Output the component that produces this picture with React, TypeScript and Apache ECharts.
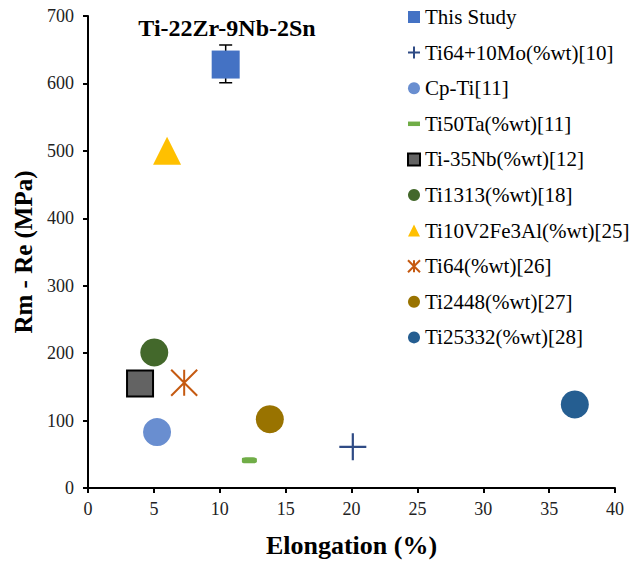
import React, { useEffect, useRef } from "react";
import * as echarts from "echarts";

const xTicks = [0, 5, 10, 15, 20, 25, 30, 35, 40];
const yTicks = [0, 100, 200, 300, 400, 500, 600, 700];

const seriesNames = [
  "This Study",
  "Ti64+10Mo(%wt)[10]",
  "Cp-Ti[11]",
  "Ti50Ta(%wt)[11]",
  "Ti-35Nb(%wt)[12]",
  "Ti1313(%wt)[18]",
  "Ti10V2Fe3Al(%wt)[25]",
  "Ti64(%wt)[26]",
  "Ti2448(%wt)[27]",
  "Ti25332(%wt)[28]",
];

const thisStudy = [[10.45, 628]];
const thisStudyError = [[10.45, 601, 657]];
const ti64Mo = [[20.1, 61]];
const cpTi = [[5.24, 83]];
const ti50Ta = [[12.25, 41]];
const ti35Nb = [[3.95, 155]];
const ti1313 = [[5.03, 201]];
const ti10V2 = [[6.0, 500]];
const ti64 = [[7.3, 156]];
const ti2448 = [[13.8, 102]];
const ti25332 = [[36.95, 124]];

const FONT = "Liberation Serif";
const PLUS = "path://M0,12L24,12M12,0L12,24";
const ASTER = "path://M0,0L26,26M26,0L0,26M13,0L13,26";
const DASH = "path://M0,0H8V3H0Z";

export default function App() {
  const ref = useRef<HTMLDivElement>(null);
  useEffect(() => {
    if (!ref.current) return;
    const chart = echarts.init(ref.current, null, { renderer: "svg" });
    const sc = (i: number, data: number[][], symbol: any, size: any, itemStyle: any) => ({
      type: "scatter",
      name: seriesNames[i],
      z: 3,
      data,
      symbol,
      symbolSize: size,
      itemStyle: { opacity: 1, ...itemStyle },
      emphasis: { disabled: true },
    });
    const option: any = {
      animation: false,
      backgroundColor: "#fff",
      textStyle: { fontFamily: FONT },
      grid: { left: 88, right: 18, top: 16, bottom: 76, containLabel: false },
      graphic: [
        {
          type: "text",
          x: 227,
          y: 28,
          style: {
            text: "Ti-22Zr-9Nb-2Sn",
            fontFamily: FONT,
            fontSize: 24,
            fontWeight: "bold",
            fill: "#000",
            align: "center",
            verticalAlign: "middle",
          },
        },
      ],
      legend: {
        orient: "vertical",
        left: 407,
        top: 6,
        padding: 0,
        itemWidth: 12,
        itemHeight: 12,
        itemGap: 13.6,
        textStyle: { fontFamily: FONT, fontSize: 21, lineHeight: 22, color: "#000" },
        data: [
          { name: seriesNames[0], icon: "rect" },
          { name: seriesNames[1], icon: PLUS },
          { name: seriesNames[2], icon: "circle" },
          { name: seriesNames[3], icon: DASH },
          { name: seriesNames[4], icon: "rect" },
          { name: seriesNames[5], icon: "circle" },
          { name: seriesNames[6], icon: "triangle" },
          { name: seriesNames[7], icon: ASTER },
          { name: seriesNames[8], icon: "circle" },
          { name: seriesNames[9], icon: "circle" },
        ],
      },
      xAxis: {
        type: "value",
        min: xTicks[0],
        max: xTicks[xTicks.length - 1],
        interval: 5,
        name: "Elongation (%)",
        nameLocation: "middle",
        nameGap: 44,
        nameTextStyle: { fontFamily: FONT, fontSize: 26, fontWeight: "bold", color: "#000" },
        splitLine: { show: false },
        axisLine: { show: true, onZero: false, lineStyle: { color: "#000", width: 2 } },
        axisTick: { show: true, length: 5, lineStyle: { color: "#000", width: 2 } },
        axisLabel: { fontFamily: FONT, fontSize: 18, color: "#222", margin: 12 },
      },
      yAxis: {
        type: "value",
        min: yTicks[0],
        max: yTicks[yTicks.length - 1],
        interval: 100,
        name: "Rm - Re (MPa)",
        nameLocation: "middle",
        nameGap: 50,
        nameTextStyle: { fontFamily: FONT, fontSize: 25, fontWeight: "bold", color: "#000" },
        splitLine: { show: false },
        axisLine: { show: true, onZero: false, lineStyle: { color: "#000", width: 2 } },
        axisTick: { show: true, length: 5, lineStyle: { color: "#000", width: 2 } },
        axisLabel: { fontFamily: FONT, fontSize: 18, color: "#222", margin: 14 },
      },
      series: [
        {
          type: "custom",
          name: "err",
          z: 1,
          data: thisStudyError,
          renderItem: (params: any, api: any) => {
            const x = api.value(0);
            const top = api.coord([x, api.value(2)]);
            const bot = api.coord([x, api.value(1)]);
            const style = { stroke: "#000", lineWidth: 1.5 };
            return {
              type: "group",
              children: [
                { type: "line", shape: { x1: top[0], y1: top[1], x2: bot[0], y2: bot[1] }, style },
                { type: "line", shape: { x1: top[0] - 6.5, y1: top[1], x2: top[0] + 6.5, y2: top[1] }, style },
                { type: "line", shape: { x1: bot[0] - 6.5, y1: bot[1], x2: bot[0] + 6.5, y2: bot[1] }, style },
              ],
            };
          },
        },
        sc(0, thisStudy, "rect", 28, { color: "#4472C4" }),
        sc(1, ti64Mo, PLUS, 27, { color: "transparent", borderColor: "#2F4B85", borderWidth: 2.2 }),
        sc(2, cpTi, "circle", 28, { color: "#698ED0" }),
        sc(3, ti50Ta, "roundRect", [15, 6], { color: "#70AD47" }),
        sc(4, ti35Nb, "rect", 26, { color: "#636363", borderColor: "#000", borderWidth: 2 }),
        sc(5, ti1313, "circle", 28, { color: "#43682B" }),
        sc(6, ti10V2, "triangle", 28, { color: "#FFC000" }),
        sc(7, ti64, ASTER, 26, { color: "transparent", borderColor: "#C55A11", borderWidth: 2 }),
        sc(8, ti2448, "circle", 28, { color: "#997300" }),
        sc(9, ti25332, "circle", 28, { color: "#255E91" }),
      ],
    };
    chart.setOption(option);
    return () => chart.dispose();
  }, []);
  return (
    <div
      ref={ref}
      style={{ position: "fixed", left: 0, top: 0, width: 633, height: 564, background: "#fff" }}
    />
  );
}
